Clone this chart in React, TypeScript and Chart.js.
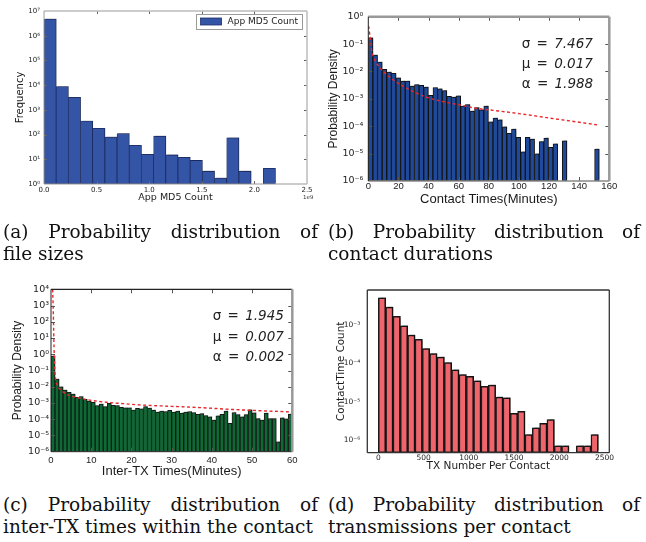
import React, { useEffect, useRef } from "react";
import { Chart, registerables } from "chart.js";

Chart.register(...registerables);

// ===== (a) Probability distribution of file sizes =====
const aBinWidth = 2.2 / 19; // App MD5 Count (x 1e9)
const aFrequency: (number | null)[] = [4.7e6, 8.7e3, 3.2e3, 350, 180, 79, 110, 37, 16, 86, 15, 12, 9, 3.3, 1.75, 74, 3.3, null, 4.3];
const aXTicks = [0, 0.5, 1.0, 1.5, 2.0, 2.5];
const aYExps = [0, 1, 2, 3, 4, 5, 6, 7];

// ===== (b) Probability distribution of contact durations =====
const bBinWidth = 3.066; // minutes
const bDensity: (number | null)[] = [
  1.7e-1, 4.0e-2, 2.2e-2, 1.2e-2, 9.5e-3, 8.5e-3, 5.9e-3, 4.5e-3, 4.5e-3, 2.9e-3,
  3.3e-3, 3.1e-3, 2.7e-3, 1.35e-3, 2.6e-3, 2.3e-3, 2.0e-3, 1.23e-3, 1.17e-3, 1.3e-3,
  5.5e-4, 6.2e-4, 3.6e-4, 4.8e-4, 4.0e-4, 5.4e-4, 1.45e-4, 2.0e-4, 1.7e-4, 9.5e-5,
  5.5e-5, 7.9e-5, 3.9e-5, 1.17e-5, 3.9e-5, 3.4e-5, 9.8e-6, 2.75e-5, 3.7e-5, 1.7e-5,
  2.3e-5, null, 2.95e-5, null, null, null, null, null, null, 1.45e-5,
];
const bFitX = [0.2, 1, 2.2, 4.4, 7, 10, 16.6, 27.7, 38.7, 49.8, 60.8, 71.9, 83, 100, 120, 140, 153];
const bFitY = [4.5e-1, 2.2e-1, 6.0e-2, 2.6e-2, 1.5e-2, 1.0e-2, 4.9e-3, 2.1e-3, 1.15e-3, 7.9e-4, 6.0e-4, 4.5e-4, 3.8e-4, 2.9e-4, 2.0e-4, 1.4e-4, 1.1e-4];
const bXTicks = [0, 20, 40, 60, 80, 100, 120, 140, 160];
const bYExps = [-6, -5, -4, -3, -2, -1, 0];
const bParams: [string, string][] = [["σ", "7.467"], ["μ", "0.017"], ["α", "1.988"]];

// ===== (c) Probability distribution of inter-TX times =====
const cBinWidth = 1; // minutes
const cDensity: (number | null)[] = [
  7.8e-1, 3.0e-2, 1.0e-2, 6.3e-3, 4.5e-3, 3.5e-3, 2.2e-3, 2.5e-3, 1.7e-3, 1.3e-3,
  1.1e-3, 6.8e-4, 8.7e-4, 5.9e-4, 9.5e-4, 7.1e-4, 6.8e-4, 5.4e-4, 5.1e-4, 5.1e-4,
  3.7e-4, 4.7e-4, 4.3e-4, 5.9e-4, 4.9e-4, 3.7e-4, 2.75e-4, 3.2e-4, 3.0e-4, 3.5e-4,
  2.8e-4, 3.2e-4, 2.4e-4, 2.8e-4, 3.0e-4, 2.6e-4, 2.0e-4, 2.2e-4, 1.66e-4, 1.4e-4,
  8.9e-5, 1.6e-4, 2.0e-4, 3.2e-4, 5.6e-5, 2.6e-4, 1.9e-4, 1.4e-4, 1.9e-4, 3.8e-4,
  2.5e-4, 1.1e-4, 8.9e-5, 2.4e-4, 1.1e-4, 1.1e-4, 4.0e-6, 1.2e-4, 1.07e-4, 2.1e-4,
];
const cFitX = [0.41, 0.58, 0.75, 1.0, 1.58, 2.24, 3.9, 5.6, 9.7, 13.8, 18, 22, 30, 37, 45, 50, 60];
const cFitY = [1e4, 316, 3, 6.8e-2, 1.26e-2, 7.2e-3, 3.4e-3, 2.45e-3, 1.5e-3, 1.1e-3, 9.1e-4, 7.6e-4, 6.2e-4, 5.2e-4, 4.0e-4, 3.5e-4, 2.8e-4];
const cXTicks = [0, 10, 20, 30, 40, 50, 60];
const cYExps = [-6, -5, -4, -3, -2, -1, 0, 1, 2, 3, 4];
const cParams: [string, string][] = [["σ", "1.945"], ["μ", "0.007"], ["α", "0.002"]];

// ===== (d) Probability distribution of transmissions per contact =====
const dBinWidth = 81; // TX number
const dDensity: (number | null)[] = [
  5.1e-3, 2.9e-3, 1.66e-3, 9.5e-4, 5.4e-4, 4.2e-4, 2.4e-4, 1.8e-4, 1.45e-4, 1.05e-4,
  6.8e-5, 5.1e-5, 4.6e-5, 3.5e-5, 2.5e-5, 2.7e-5, 1.32e-5, 1.26e-5, 5.0e-6, 5.6e-6,
  1.4e-6, 2.1e-6, 2.75e-6, 3.4e-6, 7.1e-7, 7.1e-7, null, 7.1e-7, 7.1e-7, 1.4e-6,
];
const dXTicks = [0, 500, 1000, 1500, 2000, 2500];
const dYExps = [-6, -5, -4, -3];

// ===== helpers =====
const SUP: Record<string, string> = { "0": "⁰", "1": "¹", "2": "²", "3": "³", "4": "⁴", "5": "⁵", "6": "⁶", "7": "⁷", "8": "⁸", "9": "⁹", "-": "⁻" };
const pow10 = (e: number) => "10" + String(e).split("").map((c) => SUP[c] ?? c).join("");
const bins = (vals: (number | null)[], w: number) => vals.map((v, i) => ({ x: (i + 0.5) * w, y: v }));
const pts = (xs: number[], ys: number[]) => xs.map((x, i) => ({ x, y: ys[i] }));

const framePlugin = {
  id: "frame",
  beforeDatasetDraw(chart: any, args: any, opts: any) {
    if (opts.shadow && args.meta.type === "bar") {
      const ctx = chart.ctx;
      ctx.save();
      ctx.shadowColor = opts.shadow;
      ctx.shadowOffsetX = 1.5;
      ctx.shadowOffsetY = -1.5;
      ctx.shadowBlur = 1;
    }
  },
  afterDatasetDraw(chart: any, args: any, opts: any) {
    if (opts.shadow && args.meta.type === "bar") chart.ctx.restore();
  },
  afterDraw(chart: any, _args: any, opts: any) {
    const { ctx, chartArea: a } = chart;
    ctx.save();
    const L = opts.tick || 0;
    if (L) {
      ctx.strokeStyle = opts.tickColor || "#444";
      ctx.lineWidth = 1;
      ctx.beginPath();
      const xs = chart.scales.x;
      const ys = chart.scales.y;
      for (const t of xs.ticks) {
        const p = Math.round(xs.getPixelForValue(t.value)) + 0.5;
        if (p < a.left + 1 || p > a.right - 1) continue;
        ctx.moveTo(p, a.bottom); ctx.lineTo(p, a.bottom - L);
        ctx.moveTo(p, a.top); ctx.lineTo(p, a.top + L);
      }
      for (const t of ys.ticks) {
        const p = Math.round(ys.getPixelForValue(t.value)) + 0.5;
        if (p < a.top + 1 || p > a.bottom - 1) continue;
        ctx.moveTo(a.left, p); ctx.lineTo(a.left + L, p);
        ctx.moveTo(a.right, p); ctx.lineTo(a.right - L, p);
      }
      ctx.stroke();
    }
    const side = (s: any, x1: number, y1: number, x2: number, y2: number) => {
      if (!s) return;
      ctx.strokeStyle = s[0];
      ctx.lineWidth = s[1];
      ctx.beginPath();
      ctx.moveTo(x1, y1);
      ctx.lineTo(x2, y2);
      ctx.stroke();
    };
    side(opts.top, a.left, a.top, a.right, a.top);
    side(opts.bottom, a.left, a.bottom, a.right, a.bottom);
    side(opts.left, a.left, a.top, a.left, a.bottom);
    side(opts.right, a.right, a.top, a.right, a.bottom);

    // legend box (matplotlib style, upper right inside the axes)
    if (opts.legend) {
      const ds = chart.data.datasets[opts.legend.index];
      const label: string = ds.label;
      ctx.font = "9px 'DejaVu Sans'";
      const tw = ctx.measureText(label).width;
      const boxRight = a.right - 5;
      const top = a.top + 3;
      const h = 15;
      const textRight = boxRight - 4;
      const textLeft = textRight - tw;
      const swR = textLeft - 6;
      const swL = swR - 21;
      const boxLeft = swL - 5;
      ctx.fillStyle = "#fff";
      ctx.fillRect(boxLeft, top, boxRight - boxLeft, h);
      ctx.strokeStyle = "#9a9a9a";
      ctx.lineWidth = 1;
      ctx.strokeRect(Math.round(boxLeft) + 0.5, Math.round(top) + 0.5, Math.round(boxRight - boxLeft), h);
      ctx.fillStyle = ds.backgroundColor;
      ctx.fillRect(swL, top + 4, 21, 7);
      ctx.strokeStyle = ds.borderColor;
      ctx.lineWidth = 0.8;
      ctx.strokeRect(swL, top + 4, 21, 7);
      ctx.fillStyle = "#222";
      ctx.textBaseline = "middle";
      ctx.textAlign = "left";
      ctx.fillText(label, textLeft, top + h / 2 + 0.5);
    }
    ctx.restore();
  },
};

type AxisSpec = {
  min: number; max: number; ticks: number[]; fmt: (v: number) => string;
  tickFont: any; tickPad: number; title: string; titleFont: any; titlePad: number; size: number;
};

const xAxis = (s: AxisSpec) => ({
  type: "linear", position: "bottom", min: s.min, max: s.max, bounds: "data", offset: false,
  afterBuildTicks: (sc: any) => { sc.ticks = s.ticks.map((v) => ({ value: v })); },
  afterFit: (sc: any) => { sc.height = s.size; },
  grid: { display: false, drawTicks: false, offset: false },
  border: { display: false },
  ticks: { autoSkip: false, maxRotation: 0, minRotation: 0, padding: s.tickPad, font: s.tickFont, color: "#222", callback: (v: any) => s.fmt(Number(v)) },
  title: { display: true, text: s.title, font: s.titleFont, color: "#1a1a1a", padding: { top: 0, bottom: s.titlePad } },
});

const yAxis = (s: AxisSpec) => ({
  type: "logarithmic", position: "left", min: s.min, max: s.max, bounds: "data",
  afterBuildTicks: (sc: any) => { sc.ticks = s.ticks.map((e) => ({ value: Math.pow(10, e) })); },
  afterFit: (sc: any) => { sc.width = s.size; },
  grid: { display: false, drawTicks: false },
  border: { display: false },
  ticks: { autoSkip: false, padding: s.tickPad, font: s.tickFont, color: "#222", callback: (v: any) => s.fmt(Number(v)) },
  title: { display: true, text: s.title, font: s.titleFont, color: "#1a1a1a", padding: { top: s.titlePad, bottom: 0 } },
});

const logFmt = (v: number) => pow10(Math.round(Math.log10(v)));
const fitLine = (data: any[]) => ({
  type: "line", label: "fit", data, borderColor: "#e8262b", borderWidth: 1.4, borderDash: [3, 2.5],
  pointRadius: 0, fill: false, cubicInterpolationMode: "monotone", order: 0,
});

const baseOpts = (pad: any) => ({
  responsive: false, maintainAspectRatio: false, animation: false as const,
  layout: { padding: pad },
  events: [] as any[],
});

function configA(): any {
  return {
    type: "bar",
    data: {
      datasets: [{
        label: "App MD5 Count", data: bins(aFrequency, aBinWidth),
        backgroundColor: "#3454a5", borderColor: "#1f2f6b", borderWidth: 0.8, borderSkipped: false,
        barPercentage: 1, categoryPercentage: 1,
      }],
    },
    options: {
      ...baseOpts({ left: 0, top: 11, right: 13, bottom: 0 }),
      scales: {
        x: xAxis({ min: 0, max: 2.5, ticks: aXTicks, fmt: (v) => v.toFixed(1), tickFont: { family: "DejaVu Sans", size: 7 }, tickPad: 2,
          title: "App MD5 Count", titleFont: { family: "DejaVu Sans", size: 9.5 }, titlePad: 2.6, size: 22 }),
        y: yAxis({ min: 1, max: 1e7, ticks: aYExps, fmt: logFmt, tickFont: { family: "DejaVu Sans", size: 7 }, tickPad: 4,
          title: "Frequency", titleFont: { family: "DejaVu Sans", size: 10 }, titlePad: 14.7, size: 44 }),
      },
      plugins: {
        legend: { display: false },
        tooltip: { enabled: false },
        frame: { tick: 3, tickColor: "#666", top: ["#bbb", 1.5], right: ["#bbb", 1.5], left: ["#999", 1], bottom: ["#999", 1], legend: { index: 0 }, shadow: "rgba(0,0,0,0.25)" },
      },
    },
    plugins: [framePlugin],
  };
}

function configB(): any {
  return {
    type: "bar",
    data: {
      datasets: [
        fitLine(pts(bFitX, bFitY)),
        {
          type: "bar", label: "Contact Times", data: bins(bDensity, bBinWidth), order: 1,
          backgroundColor: "#1f4a9c", borderColor: "#151515", borderWidth: 1, borderSkipped: false,
          barPercentage: 1, categoryPercentage: 1,
        },
      ],
    },
    options: {
      ...baseOpts({ left: 0, top: 16.7, right: 36.7, bottom: 0 }),
      scales: {
        x: xAxis({ min: 0, max: 160, ticks: bXTicks, fmt: (v) => String(v), tickFont: { family: "Liberation Sans", size: 9.5 }, tickPad: 0,
          title: "Contact Times(Minutes)", titleFont: { family: "Liberation Sans", size: 13 }, titlePad: 3.2, size: 29 }),
        y: yAxis({ min: 1e-6, max: 1, ticks: bYExps, fmt: logFmt, tickFont: { family: "DejaVu Sans", size: 9.5 }, tickPad: 5,
          title: "Probability Density", titleFont: { family: "Liberation Sans", size: 12 }, titlePad: 6.8, size: 48.3 }),
      },
      plugins: {
        legend: { display: false },
        tooltip: { enabled: false },
        frame: { tick: 4, tickColor: "#555", top: ["#999", 2.5], right: ["#999", 2.5], left: ["#222", 1], bottom: ["#888", 1.5], shadow: "rgba(0,0,0,0.3)" },
      },
    },
    plugins: [framePlugin],
  };
}

function configC(): any {
  return {
    type: "bar",
    data: {
      datasets: [
        fitLine(pts(cFitX, cFitY)),
        {
          type: "bar", label: "Inter-TX Times", data: bins(cDensity, cBinWidth), order: 1,
          backgroundColor: "#0d6a35", borderColor: "#1a1a1a", borderWidth: 1, borderSkipped: false,
          barPercentage: 1, categoryPercentage: 1,
        },
      ],
    },
    options: {
      ...baseOpts({ left: 0, top: 19.3, right: 27.7, bottom: 0 }),
      scales: {
        x: xAxis({ min: 0, max: 60, ticks: cXTicks, fmt: (v) => String(v), tickFont: { family: "Liberation Sans", size: 9.5 }, tickPad: 2.6,
          title: "Inter-TX Times(Minutes)", titleFont: { family: "Liberation Sans", size: 13 }, titlePad: 0.5, size: 28.3 }),
        y: yAxis({ min: 1e-6, max: 1e4, ticks: cYExps, fmt: logFmt, tickFont: { family: "DejaVu Sans", size: 9.5 }, tickPad: 2,
          title: "Probability Density", titleFont: { family: "Liberation Sans", size: 12 }, titlePad: 10.1, size: 51 }),
      },
      plugins: {
        legend: { display: false },
        tooltip: { enabled: false },
        frame: { tick: 4, tickColor: "#555", top: ["#222", 1.2], right: ["#999", 2.5], left: ["#222", 1], bottom: ["#333", 1], shadow: "rgba(0,0,0,0.25)" },
      },
    },
    plugins: [framePlugin],
  };
}

function configD(): any {
  return {
    type: "bar",
    data: {
      datasets: [{
        label: "TX Number Per Contact", data: bins(dDensity, dBinWidth),
        backgroundColor: "#f0646c", borderColor: "#1a1a1a", borderWidth: 1.5, borderSkipped: false,
        barPercentage: 1, categoryPercentage: 1,
      }],
    },
    options: {
      ...baseOpts({ left: 0, top: 20, right: 36.7, bottom: 0 }),
      scales: {
        x: xAxis({ min: -122, max: 2552, ticks: dXTicks, fmt: (v) => String(v), tickFont: { family: "DejaVu Sans", size: 7.5 }, tickPad: 1.1,
          title: "TX Number Per Contact", titleFont: { family: "DejaVu Sans", size: 10.5 }, titlePad: 7, size: 27.3 }),
        y: yAxis({ min: 4.7e-7, max: 8.1e-3, ticks: dYExps, fmt: logFmt, tickFont: { family: "DejaVu Sans", size: 7.5 }, tickPad: 7,
          title: "ContactTime Count", titleFont: { family: "DejaVu Sans", size: 10.3 }, titlePad: 15.5, size: 47.3 }),
      },
      plugins: {
        legend: { display: false },
        tooltip: { enabled: false },
        frame: { top: ["#333", 1.3], right: ["#333", 1.3], left: ["#333", 1.3], bottom: ["#333", 1.3], shadow: "rgba(0,0,0,0.4)" },
      },
    },
    plugins: [framePlugin],
  };
}

const Params = ({ left, top, lines }: { left: number; top: number; lines: [string, string][] }) => (
  <div style={{ position: "absolute", left, top, fontFamily: "'DejaVu Sans', sans-serif", fontSize: 13.5, lineHeight: "20.3px", color: "#222", whiteSpace: "nowrap", wordSpacing: 2 }}>
    {lines.map(([sym, val]) => (
      <div key={sym}>{sym} = <i>{val}</i></div>
    ))}
  </div>
);

const Caption = ({ left, top, width, line1, line2 }: { left: number; top: number; width: number; line1: string; line2: string }) => (
  <div style={{ position: "absolute", left, top, width, fontFamily: "'DejaVu Serif', serif", fontSize: 18.5, lineHeight: "22px", color: "#111" }}>
    <div style={{ textAlign: "justify", textAlignLast: "justify" as any }}>{line1}</div>
    <div style={{ whiteSpace: "nowrap" }}>{line2}</div>
  </div>
);

export default function App() {
  const refA = useRef<HTMLCanvasElement>(null);
  const refB = useRef<HTMLCanvasElement>(null);
  const refC = useRef<HTMLCanvasElement>(null);
  const refD = useRef<HTMLCanvasElement>(null);

  useEffect(() => {
    const charts = [
      new Chart(refA.current!, configA()),
      new Chart(refB.current!, configB()),
      new Chart(refC.current!, configC()),
      new Chart(refD.current!, configD()),
    ];
    return () => charts.forEach((c) => c.destroy());
  }, []);

  const cv = (left: number, top: number, w: number, h: number): React.CSSProperties => ({ position: "absolute", left, top, width: w, height: h });

  return (
    <div style={{ position: "absolute", left: 0, top: 0, width: 646, height: 542, background: "#fff", overflow: "hidden" }}>
      <canvas ref={refA} width={320} height={206} style={cv(0, 0, 320, 206)} />
      <canvas ref={refB} width={326} height={210} style={cv(320, 0, 326, 210)} />
      <canvas ref={refC} width={320} height={210} style={cv(0, 270, 320, 210)} />
      <canvas ref={refD} width={326} height={210} style={cv(320, 270, 326, 210)} />
      <div style={{ position: "absolute", left: 303, top: 194, fontFamily: "'DejaVu Sans', sans-serif", fontSize: 5.5, color: "#333" }}>1e9</div>
      <Params left={521.7} top={32.7} lines={bParams} />
      <Params left={212.7} top={305.3} lines={cParams} />
      <Caption left={3} top={221} width={315} line1="(a) Probability distribution of" line2="file sizes" />
      <Caption left={328} top={221} width={312} line1="(b) Probability distribution of" line2="contact durations" />
      <Caption left={3} top={494} width={315} line1="(c) Probability distribution of" line2="inter-TX times within the contact" />
      <Caption left={328} top={494} width={312} line1="(d) Probability distribution of" line2="transmissions per contact" />
    </div>
  );
}
